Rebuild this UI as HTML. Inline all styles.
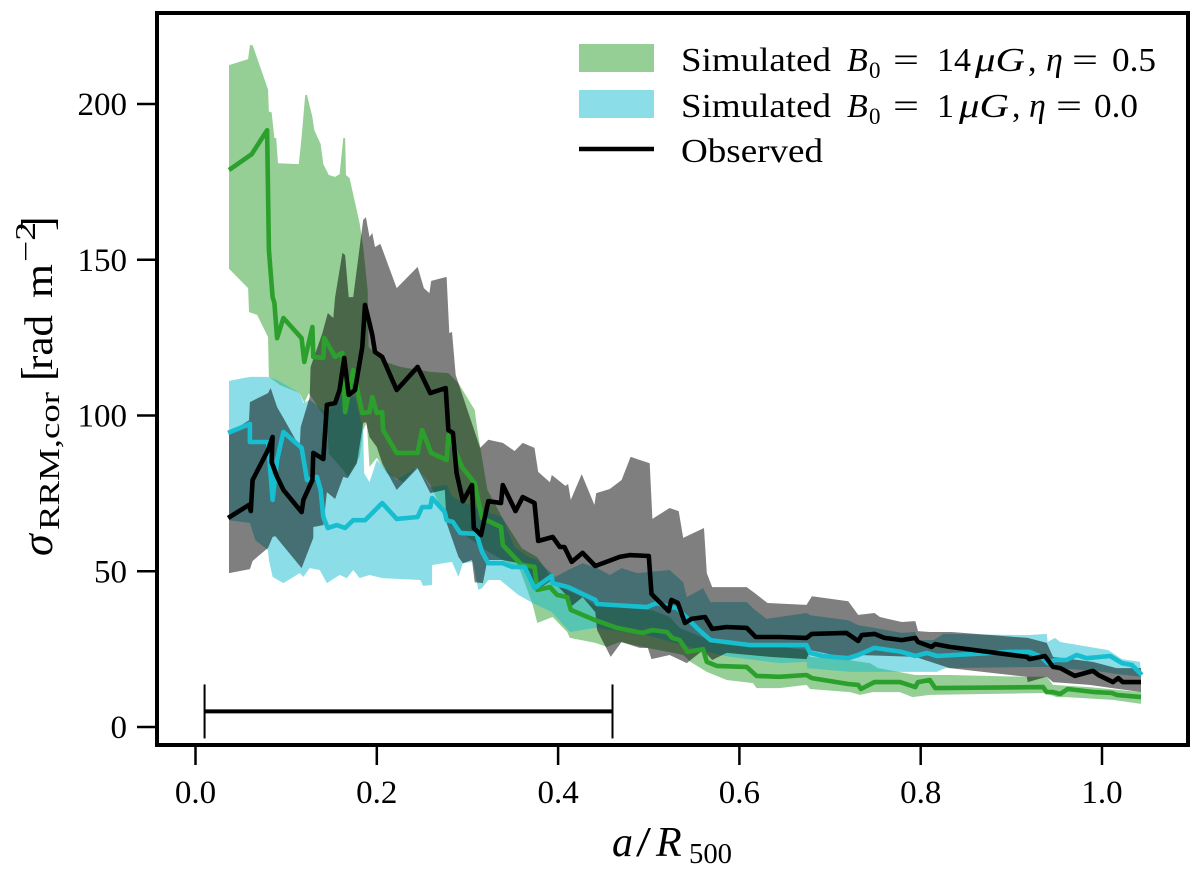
<!DOCTYPE html>
<html lang="en">
<head>
<meta charset="utf-8">
<title>RRM dispersion profile</title>
<style>
html,body{margin:0;padding:0;background:#fff;}
svg{display:block;}
text{font-family:"Liberation Serif",serif;fill:#000;}
.m{font-style:italic;}
</style>
</head>
<body>
<svg id="chart" xmlns="http://www.w3.org/2000/svg" width="1200" height="871" viewBox="0 0 1200 871">
<rect x="0" y="0" width="1200" height="871" fill="#fff"/>
<g id="bands"></g>
<g id="lines"></g>
<g id="scalebar"></g>
<rect x="157" y="13" width="1031" height="732" fill="none" stroke="#000" stroke-width="4"/>
<g id="xaxis"></g>
<g id="yaxis"></g>

<g>
<text font-size="42" class="m" x="612" y="856">a</text>
<text font-size="42" x="636" y="856" textLength="15" lengthAdjust="spacingAndGlyphs">/</text>
<text font-size="42" class="m" x="656" y="856">R</text>
<text font-size="28" x="689" y="863" textLength="43" lengthAdjust="spacingAndGlyphs">500</text>
</g>

<g transform="translate(52,0) rotate(-90)">
<text font-size="44" class="m" x="-556" y="0">σ</text>
<text font-size="28" x="-530" y="7" textLength="138" lengthAdjust="spacingAndGlyphs">RRM,cor</text>
<text font-size="44" x="-381" y="0">[</text>
<text font-size="40" x="-370" y="0" textLength="55" lengthAdjust="spacingAndGlyphs">rad</text>
<text font-size="40" x="-298" y="0" textLength="34" lengthAdjust="spacingAndGlyphs">m</text>
<text font-size="28" x="-262" y="-17" textLength="40" lengthAdjust="spacingAndGlyphs">−2</text>
<text font-size="44" x="-231" y="0">]</text>
</g>

<g id="legend">
<rect x="579" y="44" width="75" height="28" fill="#2ca02c" fill-opacity="0.5"/>
<g font-size="34">
<text x="681" y="71" textLength="150" lengthAdjust="spacingAndGlyphs">Simulated</text>
<text class="m" x="847" y="71">B</text>
<text x="869" y="78" font-size="23">0</text>
<text x="893" y="71" textLength="26" lengthAdjust="spacingAndGlyphs">=</text>
<text x="937" y="71">14</text>
<text class="m" x="975" y="71" textLength="50" lengthAdjust="spacingAndGlyphs">μG</text>
<text x="1028" y="71">,</text>
<text class="m" x="1046" y="71">η</text>
<text x="1072" y="71" textLength="26" lengthAdjust="spacingAndGlyphs">=</text>
<text x="1112" y="71" textLength="44" lengthAdjust="spacingAndGlyphs">0.5</text>
</g>
<rect x="579" y="90" width="75" height="28" fill="#17becf" fill-opacity="0.5"/>
<g font-size="34">
<text x="681" y="117" textLength="150" lengthAdjust="spacingAndGlyphs">Simulated</text>
<text class="m" x="847" y="117">B</text>
<text x="869" y="124" font-size="23">0</text>
<text x="893" y="117" textLength="26" lengthAdjust="spacingAndGlyphs">=</text>
<text x="937" y="117">1</text>
<text class="m" x="959" y="117" textLength="50" lengthAdjust="spacingAndGlyphs">μG</text>
<text x="1012" y="117">,</text>
<text class="m" x="1029" y="117">η</text>
<text x="1056" y="117" textLength="26" lengthAdjust="spacingAndGlyphs">=</text>
<text x="1094" y="117" textLength="44" lengthAdjust="spacingAndGlyphs">0.0</text>
</g>
<line x1="579" x2="654" y1="149" y2="149" stroke="#000" stroke-width="4.5"/>
<text font-size="34" x="681" y="162" textLength="142" lengthAdjust="spacingAndGlyphs">Observed</text>
</g>
</svg>
<script>
const xTickValues = [0, 0.2, 0.4, 0.6, 0.8, 1.0];
const xTickLabels = ['0.0', '0.2', '0.4', '0.6', '0.8', '1.0'];
const yTickValues = [0, 50, 100, 150, 200];
const yTickLabels = ['0', '50', '100', '150', '200'];

const scaleBarStart = 0.01;
const scaleBarEnd = 0.46;
const scaleBarLevel = 5;

const observedX = [.036,.059,.061,.063,.080,.085,.084,.090,.097,.117,.119,.129,.130,.141,.145,.154,.159,.164,.169,.176,.184,.187,.192,.195,.198,.206,.222,.245,.259,.276,.279,.284,.288,.295,.305,.307,.315,.323,.337,.339,.353,.361,.374,.378,.394,.402,.407,.415,.427,.441,.468,.479,.500,.503,.522,.525,.532,.540,.547,.562,.570,.586,.608,.618,.644,.674,.680,.718,.731,.735,.749,.760,.779,.794,.797,.812,.816,.832,.917,.920,.937,.946,.954,.970,.990,.996,1.012,1.018,1.023,1.043];
const observedY = [67.1,71.3,69.3,79.3,88.9,93.1,85.1,80.3,76.1,69.0,72.9,79.3,88.0,86.0,103.4,104.0,108.2,118.5,106.6,108.2,122.0,135.5,129.7,125.8,120.4,118.8,108.2,115.6,107.2,108.8,95.3,94.4,81.5,72.5,77.7,63.9,61.6,72.5,71.9,77.7,69.3,73.8,71.9,59.7,61.0,57.8,57.8,53.0,55.9,51.7,54.6,55.2,54.9,42.7,37.2,40.8,39.8,33.4,34.7,35.3,31.5,32.1,31.8,28.9,28.9,28.6,29.9,30.2,27.6,29.5,29.9,28.6,27.9,28.6,27.3,25.7,26.6,25.7,22.5,21.8,22.8,19.3,18.9,16.4,18.0,16.7,14.4,15.7,14.4,14.4];

const strongLineX = [.037,.062,.079,.081,.085,.087,.090,.097,.117,.120,.129,.130,.141,.142,.154,.162,.165,.174,.184,.192,.195,.200,.206,.207,.222,.245,.250,.260,.277,.279,.294,.308,.316,.337,.339,.360,.374,.377,.391,.399,.410,.414,.441,.465,.493,.504,.520,.526,.534,.543,.560,.564,.575,.608,.619,.644,.674,.680,.720,.731,.734,.749,.777,.794,.797,.810,.816,.935,.939,.946,.954,.962,.992,1.011,1.016,1.043];
const strongLineY = [178.8,183.9,191.6,153.1,138.0,136.1,124.8,131.3,124.8,117.2,128.4,118.8,118.5,124.9,118.8,120.1,101.1,114.6,100.8,101.1,105.9,100.8,101.1,95.3,88.0,88.0,95.3,88.0,85.7,93.7,83.5,78.3,67.1,64.2,58.4,52.0,51.4,44.0,44.9,42.4,41.7,37.6,34.3,31.8,30.2,31.1,30.5,28.6,27.9,24.1,25.0,20.9,19.6,19.3,16.4,16.1,16.7,15.7,13.8,13.5,12.2,14.4,14.4,12.8,14.4,15.1,12.5,12.8,11.2,11.2,10.6,12.2,11.2,10.9,10.3,9.6];

const weakLineX = [.036,.060,.060,.080,.085,.090,.097,.117,.123,.134,.138,.141,.146,.156,.165,.174,.187,.195,.206,.222,.245,.250,.259,.261,.275,.277,.284,.292,.310,.316,.323,.339,.349,.363,.374,.393,.394,.411,.441,.443,.498,.509,.523,.531,.553,.568,.612,.634,.674,.678,.692,.720,.731,.749,.779,.794,.807,.818,.898,.920,.933,.940,.948,.961,.972,.983,1.009,1.022,1.033,1.044];
const weakLineY = [94.4,97.3,91.5,91.5,72.9,85.7,94.7,89.6,79.3,80.3,76.1,67.4,63.9,64.8,63.9,66.4,66.4,68.7,71.9,66.8,67.4,70.6,70.6,73.5,69.0,66.4,65.8,62.3,62.0,56.2,52.6,52.6,51.4,51.4,44.6,48.5,46.2,44.9,40.8,39.5,38.5,39.8,38.5,38.2,31.8,27.9,26.3,26.3,26.3,23.8,22.8,22.1,23.1,25.4,24.1,22.8,23.8,22.8,24.1,24.1,22.5,20.5,21.5,21.5,23.1,22.1,22.8,20.5,19.9,16.7];

const strongUpperX = [.037,.058,.060,.063,.080,.081,.084,.087,.089,.091,.114,.117,.121,.123,.129,.131,.138,.141,.147,.154,.159,.163,.165,.166,.170,.181,.185,.190,.191,.209,.226,.259,.279,.290,.308,.311,.322,.338,.360,.377,.393,.410,.427,.441,.504,.523,.534,.575,.644,.674,.678,.720,.744,.753,.794,.832,.917,.939,.946,.986,1.043];
const strongUpperY = [212.5,214.4,218.9,218.9,204.7,197.6,197.3,189.1,189.1,181.0,180.7,189.4,202.9,202.9,195.8,191.6,187.2,180.7,177.2,176.6,177.5,189.1,189.1,177.2,176.2,161.8,154.1,140.1,122.0,117.2,115.6,114.0,113.6,110.4,101.8,95.3,76.1,67.4,57.4,54.5,47.8,43.9,41.7,39.1,37.5,35.3,31.8,26.9,25.7,24.7,22.5,21.5,20.5,18.9,16.7,16.7,16.1,16.1,13.5,12.8,11.2];
const strongLowerX = [.037,.058,.059,.068,.080,.081,.093,.115,.120,.125,.145,.147,.163,.168,.181,.185,.189,.192,.200,.211,.229,.244,.259,.279,.320,.358,.372,.377,.391,.394,.410,.413,.441,.454,.468,.498,.527,.538,.546,.564,.586,.615,.619,.644,.674,.678,.722,.733,.747,.777,.791,.810,.937,.950,.961,1.012,1.043];
const strongLowerY = [147.1,140.9,133.2,132.3,125.2,112.4,109.8,107.2,104.0,107.2,98.5,87.7,82.5,80.3,86.7,95.3,97.9,83.5,86.4,81.5,78.6,83.5,77.7,65.5,56.8,50.4,39.2,33.4,35.0,35.3,30.5,28.6,27.0,25.7,27.3,25.4,23.8,23.1,20.9,17.7,15.1,14.1,12.5,12.5,13.5,12.2,11.2,10.3,11.2,11.2,9.6,10.3,10.9,9.6,9.6,8.7,7.4];

const weakUpperX = [.037,.060,.080,.090,.115,.119,.126,.145,.163,.176,.185,.186,.192,.200,.222,.245,.259,.277,.284,.314,.338,.352,.367,.377,.397,.411,.427,.443,.457,.470,.487,.523,.538,.542,.560,.568,.608,.617,.630,.674,.678,.720,.731,.749,.779,.794,.797,.814,.825,.918,.939,.940,.948,.954,1.007,1.022,1.042];
const weakUpperY = [111.1,112.4,112.4,111.4,107.2,104.0,105.0,100.8,107.2,105.9,95.3,81.5,78.6,85.7,79.3,83.5,77.0,77.7,73.8,69.7,67.4,57.8,54.6,53.6,48.2,50.4,52.6,51.0,48.8,51.0,49.4,50.4,46.5,41.7,44.6,40.1,40.1,37.6,34.7,36.6,35.9,34.3,32.7,31.8,30.2,30.5,27.9,27.9,29.9,29.5,29.9,27.3,28.6,27.3,24.7,21.8,20.9];
const weakLowerX = [.037,.060,.066,.080,.081,.085,.097,.115,.119,.126,.137,.145,.159,.167,.174,.181,.192,.206,.248,.251,.261,.261,.283,.290,.295,.306,.312,.316,.323,.336,.356,.372,.393,.413,.441,.498,.568,.590,.644,.674,.675,.722,.794,.818,.827,.939,1.001,1.016,1.043];
const weakLowerY = [66.4,65.5,60.0,56.8,53.6,48.2,46.2,49.4,48.2,51.0,50.4,46.2,48.8,47.8,50.4,47.8,48.8,47.8,47.2,45.3,45.6,52.0,53.0,48.2,52.6,53.0,44.0,44.6,47.2,47.2,42.4,39.8,36.9,30.5,31.8,29.5,23.8,22.5,20.5,20.9,18.9,17.7,17.7,17.7,18.9,19.3,17.7,17.0,16.1];

const observedUpperX = [.037,.059,.060,.080,.083,.090,.097,.115,.116,.126,.127,.140,.146,.152,.154,.162,.165,.169,.174,.185,.188,.192,.195,.198,.204,.222,.245,.252,.258,.260,.277,.280,.283,.287,.314,.323,.339,.352,.361,.374,.378,.391,.393,.408,.411,.414,.426,.440,.442,.457,.470,.480,.501,.504,.523,.533,.538,.561,.564,.570,.608,.617,.631,.674,.680,.720,.731,.749,.755,.779,.794,.797,.810,.834,.918,.939,.946,.990,1.016,1.043];
const observedUpperY = [94.4,98.5,104.3,107.2,108.8,102.7,99.2,89.9,96.3,105.9,115.6,126.5,132.9,131.3,138.0,152.2,151.5,138.0,138.0,162.8,163.7,157.3,158.6,154.1,155.1,140.9,147.7,140.9,139.3,143.2,144.5,126.5,126.8,113.0,89.6,92.2,91.2,88.6,91.2,89.6,81.9,78.6,80.9,77.4,78.0,72.9,81.2,71.3,75.1,76.4,79.3,86.7,84.7,66.8,70.3,69.3,60.7,63.9,49.4,44.9,44.9,43.0,39.8,39.2,42.0,40.4,36.0,36.6,35.3,33.7,34.0,30.8,30.5,30.5,28.6,27.0,22.5,20.9,18.9,18.9];
const observedLowerX = [.037,.060,.063,.080,.085,.088,.117,.130,.130,.141,.145,.154,.163,.168,.178,.185,.188,.192,.200,.206,.222,.245,.259,.275,.277,.290,.295,.305,.308,.317,.322,.338,.358,.377,.393,.411,.415,.427,.441,.443,.458,.470,.490,.499,.503,.523,.542,.560,.570,.586,.634,.674,.678,.720,.731,.794,.832,.917,.918,.939,.946,.986,1.043];
const observedLowerY = [49.4,50.7,53.3,57.5,61.0,61.3,51.0,60.7,64.2,64.8,75.4,73.2,80.3,79.9,84.7,97.6,97.9,93.1,89.9,84.7,76.1,83.1,75.1,76.1,65.5,54.6,52.6,53.6,46.5,46.2,53.6,53.6,52.6,44.0,47.2,41.7,38.8,41.7,36.9,31.1,22.5,27.3,25.4,25.4,21.8,23.1,20.5,24.7,21.5,23.8,22.5,21.8,24.7,22.1,23.1,22.5,18.9,16.1,14.4,16.1,14.4,13.5,11.2];

const SVG_NS = 'http://www.w3.org/2000/svg';
function xScale(v) { return 195.5 + v * 906.5; }
function yScale(v) { return 727 - v * 3.115; }

function tracePoints(xs, ys) {
  const out = [];
  const n = Math.min(xs.length, ys.length);
  for (let i = 0; i < n; i++) {
    out.push(xScale(xs[i]).toFixed(1) + ',' + yScale(ys[i]).toFixed(1));
  }
  return out;
}
function bandPath(ux, uy, lx, ly) {
  const top = tracePoints(ux, uy);
  const bottom = tracePoints(lx, ly).reverse();
  return 'M' + top.concat(bottom).join('L') + 'Z';
}
function linePath(xs, ys) {
  return 'M' + tracePoints(xs, ys).join('L');
}

const bandsGroup = document.getElementById('bands');
const linesGroup = document.getElementById('lines');
const scaleGroup = document.getElementById('scalebar');
const xGroup = document.getElementById('xaxis');
const yGroup = document.getElementById('yaxis');

const strongBand = document.createElementNS(SVG_NS, 'path');


strongBand.setAttribute('d', bandPath(strongUpperX, strongUpperY, strongLowerX, strongLowerY));
strongBand.setAttribute('fill', '#2ca02c');
strongBand.setAttribute('fill-opacity', '0.5');
bandsGroup.appendChild(strongBand);

const weakBand = document.createElementNS(SVG_NS, 'path');


weakBand.setAttribute('d', bandPath(weakUpperX, weakUpperY, weakLowerX, weakLowerY));
weakBand.setAttribute('fill', '#17becf');
weakBand.setAttribute('fill-opacity', '0.5');
bandsGroup.appendChild(weakBand);

const observedBand = document.createElementNS(SVG_NS, 'path');


observedBand.setAttribute('d', bandPath(observedUpperX, observedUpperY, observedLowerX, observedLowerY));
observedBand.setAttribute('fill', '#000');
observedBand.setAttribute('fill-opacity', '0.5');
bandsGroup.appendChild(observedBand);

const strongLine = document.createElementNS(SVG_NS, 'path');


strongLine.setAttribute('d', linePath(strongLineX, strongLineY));
strongLine.setAttribute('fill', 'none');
strongLine.setAttribute('stroke', '#2ca02c');
strongLine.setAttribute('stroke-width', '4.6');
strongLine.setAttribute('stroke-linejoin', 'round');
linesGroup.appendChild(strongLine);

const weakLine = document.createElementNS(SVG_NS, 'path');


weakLine.setAttribute('d', linePath(weakLineX, weakLineY));
weakLine.setAttribute('fill', 'none');
weakLine.setAttribute('stroke', '#17becf');
weakLine.setAttribute('stroke-width', '4.6');
weakLine.setAttribute('stroke-linejoin', 'round');
linesGroup.appendChild(weakLine);

const observedLine = document.createElementNS(SVG_NS, 'path');


observedLine.setAttribute('d', linePath(observedX, observedY));
observedLine.setAttribute('fill', 'none');
observedLine.setAttribute('stroke', '#000');
observedLine.setAttribute('stroke-width', '4.6');
observedLine.setAttribute('stroke-linejoin', 'round');
linesGroup.appendChild(observedLine);

const barY = yScale(scaleBarLevel);
const barMain = document.createElementNS(SVG_NS, 'line');


barMain.setAttribute('x1', xScale(scaleBarStart));
barMain.setAttribute('x2', xScale(scaleBarEnd));
barMain.setAttribute('y1', barY);
barMain.setAttribute('y2', barY);
barMain.setAttribute('stroke', '#000');
barMain.setAttribute('stroke-width', '4');
scaleGroup.appendChild(barMain);

const capLeft = document.createElementNS(SVG_NS, 'line');


capLeft.setAttribute('x1', xScale(scaleBarStart));
capLeft.setAttribute('x2', xScale(scaleBarStart));
capLeft.setAttribute('y1', barY - 27);
capLeft.setAttribute('y2', barY + 27);
capLeft.setAttribute('stroke', '#000');
capLeft.setAttribute('stroke-width', '2');
scaleGroup.appendChild(capLeft);

const capRight = document.createElementNS(SVG_NS, 'line');


capRight.setAttribute('x1', xScale(scaleBarEnd));
capRight.setAttribute('x2', xScale(scaleBarEnd));
capRight.setAttribute('y1', barY - 27);
capRight.setAttribute('y2', barY + 27);
capRight.setAttribute('stroke', '#000');
capRight.setAttribute('stroke-width', '2');
scaleGroup.appendChild(capRight);

xTickValues.forEach(function (v, i) {
  const tick = document.createElementNS(SVG_NS, 'line');
  
  
  tick.setAttribute('x1', xScale(v));
  tick.setAttribute('x2', xScale(v));
  tick.setAttribute('y1', 745);
  tick.setAttribute('y2', 765);
  tick.setAttribute('stroke', '#000');
  tick.setAttribute('stroke-width', '2.5');
  xGroup.appendChild(tick);
  const label = document.createElementNS(SVG_NS, 'text');
  
  
  label.setAttribute('x', xScale(v));
  label.setAttribute('y', 803);
  label.setAttribute('text-anchor', 'middle');
  label.setAttribute('font-size', '33');
  label.textContent = xTickLabels[i];
  xGroup.appendChild(label);
});

yTickValues.forEach(function (v, i) {
  const tick = document.createElementNS(SVG_NS, 'line');
  
  
  tick.setAttribute('x1', 137);
  tick.setAttribute('x2', 157);
  tick.setAttribute('y1', yScale(v));
  tick.setAttribute('y2', yScale(v));
  tick.setAttribute('stroke', '#000');
  tick.setAttribute('stroke-width', '2.5');
  yGroup.appendChild(tick);
  const label = document.createElementNS(SVG_NS, 'text');
  
  
  label.setAttribute('x', 127);
  label.setAttribute('y', yScale(v) + 11);
  label.setAttribute('text-anchor', 'end');
  label.setAttribute('font-size', '33');
  label.textContent = yTickLabels[i];
  yGroup.appendChild(label);
});
</script>
</body>
</html>
